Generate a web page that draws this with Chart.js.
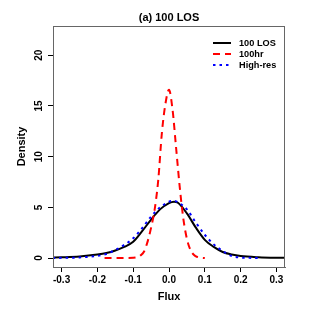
<!DOCTYPE html>
<html>
<head>
<meta charset="utf-8">
<script src="https://cdn.jsdelivr.net/npm/chart.js@4"></script>
<style>
  body { margin: 0; background: #fff; }
</style>
</head>
<body>
<canvas id="grafico" width="312" height="312"></canvas>
<script>
// density curves
const fluxLos = [-0.33, -0.3, -0.25, -0.2, -0.175, -0.15, -0.125, -0.1, -0.075, -0.05, -0.025, 0, 0.014, 0.025, 0.05, 0.075, 0.1, 0.125, 0.15, 0.175, 0.2, 0.25, 0.3, 0.33];
const densityLos = [0.05, 0.08, 0.16, 0.35, 0.5, 0.75, 1.1, 1.6, 2.65, 3.8, 4.8, 5.42, 5.56, 5.45, 4.4, 3.0, 1.8, 1.1, 0.6, 0.35, 0.2, 0.08, 0.03, 0.02];

const flux100hr = [-0.18, -0.14, -0.1, -0.09, -0.08, -0.07, -0.06, -0.05, -0.04, -0.03, -0.02, -0.01, 0, 0.01, 0.02, 0.03, 0.04, 0.05, 0.06, 0.07, 0.08, 0.09, 0.1];
const density100hr = [0, 0, 0.03, 0.08, 0.25, 0.62, 1.6, 3.0, 4.8, 7.7, 12.3, 15.2, 16.6, 14.6, 10.8, 7.0, 3.9, 1.9, 0.8, 0.3, 0.1, 0.03, 0];

const fluxHighres = [-0.325, -0.3, -0.25, -0.2, -0.175, -0.15, -0.125, -0.1, -0.075, -0.05, -0.025, 0, 0.012, 0.025, 0.05, 0.075, 0.1, 0.125, 0.15, 0.175, 0.2, 0.225, 0.25];
const densityHighres = [0, 0.02, 0.06, 0.22, 0.4, 0.8, 1.3, 1.95, 2.95, 4.1, 5.0, 5.55, 5.66, 5.5, 4.8, 3.5, 2.3, 1.35, 0.7, 0.2, 0.05, 0.02, 0.01];

const titulo = '(a) 100 LOS';
const seriesNames = ['100 LOS', '100hr', 'High-res'];
const xTicks = [-0.3, -0.2, -0.1, 0, 0.1, 0.2, 0.3];
const yTicks = [0, 5, 10, 15, 20];

const fonte = '"Liberation Sans", Arial, sans-serif';
const pares = (xs, ys) => xs.map((x, i) => ({ x: x, y: ys[i] }));

const estilos = [
  { color: '#000000', dash: [] },
  { color: '#ff0000', dash: [7, 5] },
  { color: '#0000ff', dash: [2.5, 4] }
];

// title over the plot box, box, vertical y tick labels and the legend, R style
const extras = {
  id: 'extras',
  afterDatasetsDraw(chart) {
    const ctx = chart.ctx;
    const a = chart.chartArea;
    const y = chart.scales.y;
    ctx.save();
    ctx.strokeStyle = '#666';
    ctx.lineWidth = 1;
    ctx.strokeRect(a.left + 0.5, a.top + 0.5, a.right - a.left - 1, a.bottom - a.top);

    ctx.fillStyle = '#000';
    ctx.textAlign = 'center';
    ctx.textBaseline = 'middle';
    ctx.font = 'bold 11px ' + fonte;
    ctx.fillText(titulo, (a.left + a.right) / 2, 18);

    ctx.font = 'bold 10px ' + fonte;
    yTicks.forEach(v => {
      ctx.save();
      ctx.translate(39.5, y.getPixelForValue(v));
      ctx.rotate(-Math.PI / 2);
      ctx.fillText(String(v), 0, 0);
      ctx.restore();
    });

    ctx.font = 'bold 9.2px ' + fonte;
    ctx.textAlign = 'left';
    seriesNames.forEach((nome, i) => {
      const ly = 43 + i * 11;
      ctx.beginPath();
      ctx.strokeStyle = estilos[i].color;
      ctx.lineWidth = 2;
      ctx.setLineDash(estilos[i].dash);
      ctx.moveTo(213, ly);
      ctx.lineTo(231, ly);
      ctx.stroke();
      ctx.setLineDash([]);
      ctx.fillText(nome, 239, ly);
    });
    ctx.restore();
  }
};

const ctx = document.getElementById('grafico');
const grafico = new Chart(ctx, {
  type: 'line',
  data: {
    datasets: [
      { label: seriesNames[0], data: pares(fluxLos, densityLos), order: 2 },
      { label: seriesNames[1], data: pares(flux100hr, density100hr), order: 1 },
      { label: seriesNames[2], data: pares(fluxHighres, densityHighres), order: 0 }
    ].map((d, i) => Object.assign(d, {
      borderColor: estilos[i].color,
      borderDash: estilos[i].dash,
      borderWidth: 2,
      pointRadius: 0,
      fill: false,
      cubicInterpolationMode: 'monotone'
    }))
  },
  options: {
    responsive: false,
    animation: false,
    layout: { padding: { top: 26, right: 27, bottom: 0, left: 0 } },
    plugins: {
      legend: { display: false },
      tooltip: { enabled: false },
      title: { display: false }
    },
    scales: {
      x: {
        type: 'linear',
        min: -0.324,
        max: 0.324,
        afterBuildTicks: s => { s.ticks = xTicks.map(v => ({ value: v })); },
        afterFit: s => { s.height = 45; },
        ticks: {
          color: '#000',
          padding: 2,
          maxRotation: 0,
          font: { family: fonte, size: 10, weight: 'bold' },
          callback: v => (Math.abs(v) < 1e-9 ? 0 : v).toFixed(1)
        },
        grid: { drawOnChartArea: false, tickLength: 5, color: '#000' },
        border: { color: '#666' },
        title: {
          display: true,
          text: 'Flux',
          color: '#000',
          font: { family: fonte, size: 11, weight: 'bold' },
          padding: { top: 0, bottom: 8.4 }
        }
      },
      y: {
        min: -0.88,
        max: 22.88,
        afterBuildTicks: s => { s.ticks = yTicks.map(v => ({ value: v })); },
        afterFit: s => { s.width = 53; },
        ticks: { display: false },
        grid: { drawOnChartArea: false, tickLength: 5, color: '#000' },
        border: { color: '#666' },
        title: {
          display: true,
          text: 'Density',
          color: '#000',
          font: { family: fonte, size: 11, weight: 'bold' },
          padding: { top: 15.4, bottom: 0 }
        }
      }
    }
  },
  plugins: [extras]
});
</script>
</body>
</html>
